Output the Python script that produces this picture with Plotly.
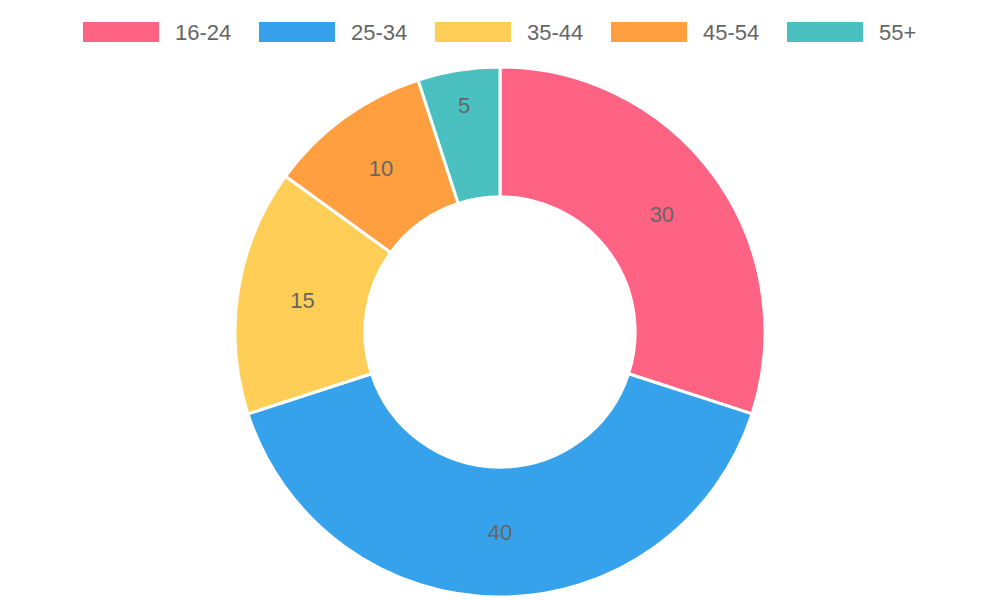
import plotly.graph_objects as go

categories = ["16-24", "25-34", "35-44", "45-54", "55+"]
values = [30, 40, 15, 10, 5]
colors = ["#FF6384", "#36A2EB", "#FFCE56", "#FF9F40", "#4BC0C0"]

dx = -8
dy = -8

fig = go.Figure(go.Pie(
    labels=categories, values=values, sort=False, direction="clockwise", rotation=0,
    hole=0.51, marker=dict(colors=colors, line=dict(color="white", width=3)),
    textinfo="value", textposition="inside", insidetextorientation="horizontal",
    textfont=dict(color="#666666", size=22, family="Liberation Sans"),
    domain=dict(x=[(235 + dx) / 1000, (765 + dx) / 1000], y=[(3 - dy) / 600, (533 - dy) / 600]),
    showlegend=False,
))

shapes, annotations = [], []
for i, (c, col) in enumerate(zip(categories, colors)):
    x0 = 83 + dx + 176 * i
    shapes.append(dict(type="rect", xref="paper", yref="paper",
                       x0=x0 / 1000, x1=(x0 + 76) / 1000,
                       y0=1 - (42 + dy) / 600, y1=1 - (22 + dy) / 600,
                       fillcolor=col, line=dict(width=0)))
    annotations.append(dict(text=c, xref="paper", yref="paper", x=(x0 + 90) / 1000,
                            y=1 - (32 + dy) / 600,
                            xanchor="left", yanchor="middle", showarrow=False,
                            font=dict(color="#666666", size=22, family="Liberation Sans")))

fig.update_layout(width=1000, height=600, margin=dict(l=0, r=0, t=0, b=0),
                  paper_bgcolor="white", shapes=shapes, annotations=annotations)
fig.write_html("out.html")
